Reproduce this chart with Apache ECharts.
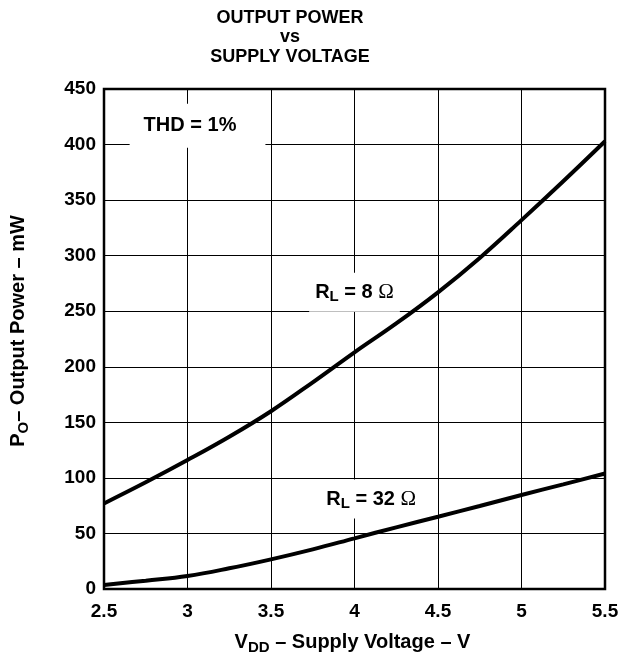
<!DOCTYPE html>
<html>
<head>
<meta charset="utf-8">
<script src="https://cdn.jsdelivr.net/npm/echarts@6/dist/echarts.min.js"></script>
<style>
html,body{margin:0;padding:0;background:#fff;}
#chart{width:619px;height:655px;}
</style>
</head>
<body>
<div id="chart"></div>
<script>
// Data
var voltage = [2.5, 2.75, 3, 3.25, 3.5, 3.75, 4, 4.25, 4.5, 4.75, 5, 5.25, 5.5];
var power8 = [77, 96, 116, 137, 160, 186, 213, 239, 267, 298, 332, 367, 403];
var power32 = [3.6, 7.5, 11.7, 18.6, 26.7, 35.7, 45.6, 55.5, 65, 74.7, 84.6, 94.2, 104];
var xTicks = { min: 2.5, max: 5.5, step: 0.5 };
var yTicks = { min: 0, max: 450, step: 50 };
var annotations = [
  { pos: [3.06, 417], text: '{n|THD = 1%}' },
  { pos: [4.0, 267], text: '{n|R}{s|L}{n| = 8 }{o|Ω}' },
  { pos: [4.1, 81], text: '{n|R}{s|L}{n| = 32 }{o|Ω}' }
];

var FONT = '"Liberation Sans", Arial, Helvetica, sans-serif';
var richBase = {
  n: { fontFamily: FONT, fontWeight: 'bold', fontSize: 20, color: '#000' },
  s: { fontFamily: FONT, fontWeight: 'bold', fontSize: 15, color: '#000', padding: [10, 0, 0, 0] },
  o: { fontFamily: '"Liberation Serif", "Times New Roman", serif', fontWeight: 'normal', fontSize: 21, color: '#000' }
};

function pairs(xs, ys) { return xs.map(function (x, i) { return [x, ys[i]]; }); }

var chart = echarts.init(document.getElementById('chart'), null, { renderer: 'canvas' });
chart.setOption({
  animation: false,
  backgroundColor: '#fff',
  graphic: [{
    type: 'text', x: 290, y: 8,
    style: {
      text: 'OUTPUT POWER\nvs\nSUPPLY VOLTAGE',
      textAlign: 'center',
      fontFamily: FONT, fontWeight: 'bold', fontSize: 18, lineHeight: 19.5, fill: '#000'
    }
  }],
  grid: {
    left: 104, right: 14, top: 89, bottom: 66, show: true,
    outerBoundsMode: 'none', containLabel: false,
    borderColor: '#000', borderWidth: 2.5, backgroundColor: 'transparent'
  },
  xAxis: {
    type: 'value', min: xTicks.min, max: xTicks.max, interval: xTicks.step,
    axisLine: { show: false }, axisTick: { show: false },
    splitLine: { show: true, lineStyle: { color: '#000', width: 1 } },
    axisLabel: { margin: 13, fontFamily: FONT, fontWeight: 'bold', fontSize: 19, color: '#000' },
    name: '{n|V}{s|DD}{n| – Supply Voltage – V}',
    nameLocation: 'middle', nameGap: 41,
    nameTextStyle: { rich: richBase, padding: [0, 4, 0, 0] }
  },
  yAxis: {
    type: 'value', min: yTicks.min, max: yTicks.max, interval: yTicks.step,
    axisLine: { show: false }, axisTick: { show: false },
    splitLine: { show: true, lineStyle: { color: '#000', width: 1 } },
    axisLabel: { margin: 8, fontFamily: FONT, fontWeight: 'bold', fontSize: 19, color: '#000' },
    name: '{n|P}{s|O}{n|– Output Power – mW}',
    nameLocation: 'middle', nameGap: 73,
    nameTextStyle: { rich: richBase, padding: [0, 0, 0, 16] }
  },
  series: [
    {
      name: 'RL = 8', type: 'line', data: pairs(voltage, power8), smooth: 0.4,
      showSymbol: false, lineStyle: { color: '#000', width: 4 }, z: 5
    },
    {
      name: 'RL = 32', type: 'line', data: pairs(voltage, power32), smooth: 0.4,
      showSymbol: false, lineStyle: { color: '#000', width: 4 }, z: 5
    },
    {
      name: 'labels', type: 'scatter', symbolSize: 0, z: 4, silent: true,
      itemStyle: { opacity: 1 },
      data: annotations.map(function (a, i) {
        var pad = i === 0 ? [12, 29, 12, 14] : [7, 6, 7, 6];
        return {
          value: a.pos,
          label: {
            show: true, position: 'inside', formatter: a.text,
            backgroundColor: '#fff', padding: pad, rich: richBase
          }
        };
      })
    }
  ]
});
</script>
</body>
</html>
